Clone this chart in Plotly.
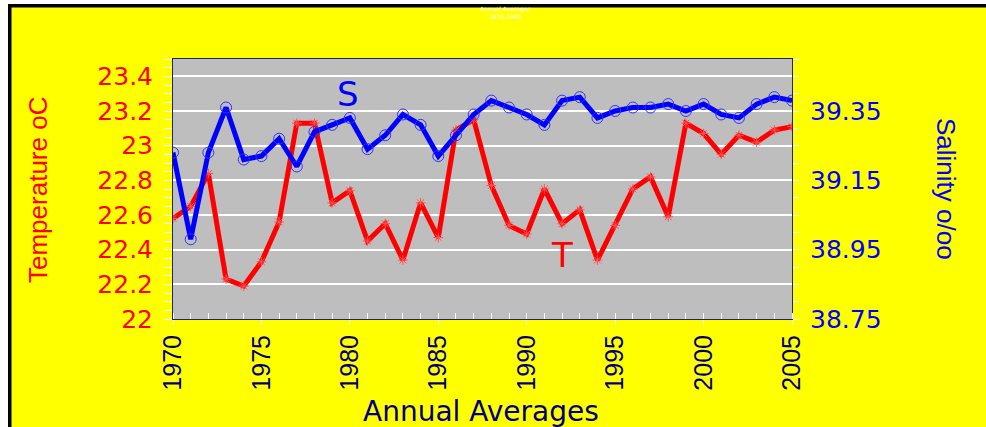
import plotly.graph_objects as go

years = list(range(1970, 2006))
temperature = [22.58, 22.65, 22.84, 22.23, 22.19, 22.33, 22.56, 23.13, 23.13, 22.67,
               22.74, 22.45, 22.55, 22.34, 22.67, 22.47, 23.09, 23.15, 22.77, 22.54,
               22.49, 22.75, 22.55, 22.63, 22.34, 22.54, 22.75, 22.82, 22.59, 23.13,
               23.07, 22.95, 23.06, 23.02, 23.09, 23.11]
salinity = [39.23, 38.98, 39.23, 39.36, 39.21, 39.22, 39.27, 39.19, 39.29, 39.31,
            39.33, 39.24, 39.28, 39.34, 39.31, 39.22, 39.28, 39.34, 39.38, 39.36,
            39.34, 39.31, 39.38, 39.39, 39.33, 39.35, 39.36, 39.36, 39.37, 39.35,
            39.37, 39.34, 39.33, 39.37, 39.39, 39.38]
x_ticks = [1970, 1975, 1980, 1985, 1990, 1995, 2000, 2005]

W, H = 986, 427
L, R, T, B = 173, 194, 59, 108
PW, PH = W - L - R, H - T - B

def px(x):
    return (x - L) / PW

def py(y):
    return (H - B - y) / PH

RED = "#FF0000"
BLUE = "#0000FF"
NAVY = "#000080"

fig = go.Figure()
fig.add_trace(go.Scatter(
    x=years, y=temperature, mode="lines+markers", name="T",
    line=dict(color=RED, width=5),
    marker=dict(symbol="asterisk-open", size=8, color="#FF5050",
                line=dict(color="#FF5050", width=1)),
    yaxis="y"))
fig.add_trace(go.Scatter(
    x=years, y=salinity, mode="lines+markers", name="S",
    line=dict(color=BLUE, width=5),
    marker=dict(symbol="circle-open", size=11, color="#3030FF",
                line=dict(color="#3030FF", width=1)),
    yaxis="y2"))

tickfont_h = dict(family="DejaVu Sans", size=25)

fig.update_layout(
    width=W, height=H,
    margin=dict(l=L, r=R, t=T, b=B, pad=0),
    paper_bgcolor="#FFFF00",
    plot_bgcolor="#BEBEBE",
    showlegend=False,
    xaxis=dict(
        range=[1970, 2005], tickmode="array", tickvals=x_ticks,
        tickangle=-90, tickfont=dict(family="Liberation Sans", size=25, color=NAVY),
        ticks="outside", ticklen=5, tickcolor="white", tickwidth=1,
        minor=dict(dtick=1, ticks="inside", ticklen=6, tickcolor="white", tickwidth=1),
        showgrid=False, zeroline=False,
        showline=True, linecolor="#20207A", linewidth=1, mirror=True,
        ticklabelstandoff=0,
    ),
    yaxis=dict(
        range=[22, 23.5], tick0=22, dtick=0.2,
        tickfont=dict(tickfont_h, color=RED),
        ticks="outside", ticklen=8, tickcolor="white", tickwidth=1,
        minor=dict(dtick=0.05, ticks="outside", ticklen=8, tickcolor="white", tickwidth=1),
        showgrid=True, gridcolor="white", gridwidth=1.5, zeroline=False,
        showline=True, linecolor="#20207A", linewidth=1, mirror=True,
        ticklabelstandoff=6,
    ),
    yaxis2=dict(
        range=[38.75, 39.5], tick0=38.75, dtick=0.2, overlaying="y", side="right",
        tickfont=dict(tickfont_h, color=BLUE),
        ticks="outside", ticklen=6, tickcolor="white", tickwidth=1,
        minor=dict(dtick=0.05, ticks="outside", ticklen=6, tickcolor="white", tickwidth=1),
        showgrid=False, zeroline=False,
        showline=True, linecolor="#20207A", linewidth=1,
        ticklabelstandoff=6,
    ),
)

annotations = [
    dict(text="Temperature oC", x=px(38), y=py(190), xref="paper", yref="paper",
         textangle=-90, showarrow=False, xanchor="center", yanchor="middle",
         font=dict(family="Liberation Sans", size=26, color=RED)),
    dict(text="Salinity o/oo", x=px(946), y=py(189), xref="paper", yref="paper",
         textangle=90, showarrow=False, xanchor="center", yanchor="middle",
         font=dict(family="Liberation Sans", size=26, color=BLUE)),
    dict(text="Annual Averages", x=px(481), y=py(411), xref="paper", yref="paper",
         showarrow=False, xanchor="center", yanchor="middle",
         font=dict(family="DejaVu Sans", size=28, color=NAVY)),
    dict(text="S", x=1979.9, y=23.296, xref="x", yref="y", showarrow=False,
         xanchor="center", yanchor="middle",
         font=dict(family="DejaVu Sans", size=34, color=BLUE)),
    dict(text="T", x=1992.0, y=22.37, xref="x", yref="y", showarrow=False,
         xanchor="center", yanchor="middle",
         font=dict(family="DejaVu Sans", size=34, color=RED)),
    dict(text="Annual Averages<br>1970-2005", x=px(506), y=py(13), xref="paper", yref="paper",
         showarrow=False, xanchor="center", yanchor="middle",
         font=dict(family="DejaVu Sans", size=6, color="white")),
]
fig.update_layout(annotations=annotations)

shapes = [
    dict(type="rect", xref="paper", yref="paper", x0=px(0), x1=px(W), y0=py(0), y1=py(4),
         fillcolor="white", line=dict(width=0), layer="above"),
    dict(type="rect", xref="paper", yref="paper", x0=px(0), x1=px(8), y0=py(0), y1=py(H),
         fillcolor="white", line=dict(width=0), layer="above"),
    dict(type="rect", xref="paper", yref="paper", x0=px(8), x1=px(W), y0=py(4), y1=py(7.5),
         fillcolor="black", line=dict(width=0), layer="above"),
    dict(type="rect", xref="paper", yref="paper", x0=px(8), x1=px(11.5), y0=py(4), y1=py(H),
         fillcolor="black", line=dict(width=0), layer="above"),
]
fig.update_layout(shapes=shapes)

fig.write_html(
    "out.html",
    config={"displayModeBar": False},
    post_script="document.body.style.margin='0';document.body.style.overflow='hidden';",
)
